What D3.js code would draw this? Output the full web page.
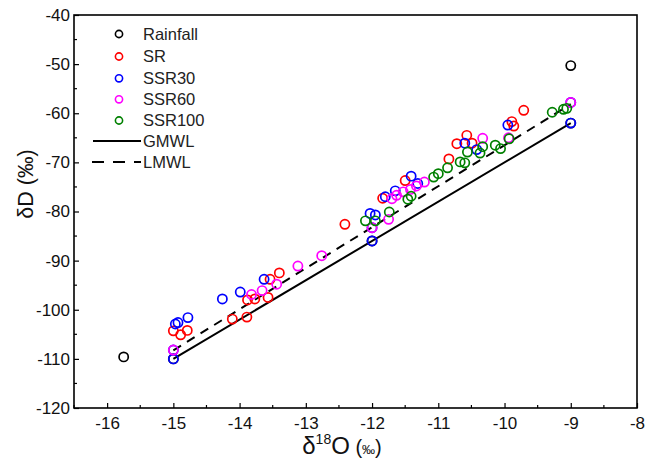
<!DOCTYPE html>
<html><head><meta charset="utf-8">
<script src="https://cdn.jsdelivr.net/npm/d3@7/dist/d3.min.js"></script>
<style>body{margin:0;background:#fff}svg{display:block;font-family:"Liberation Sans",Arial,sans-serif}</style>
</head><body><svg id="c" width="646" height="464"></svg>
<script>
const rainfall = [[-15.75,-109.6],[-15.0,-110.0],[-12.0,-86.0],[-9.0,-62.0],[-9.0,-50.3]];
const sr = [[-15.0,-104.3],[-14.89,-105.1],[-14.79,-104.2],[-14.11,-101.9],[-13.89,-101.5],[-13.88,-98.0],[-13.77,-97.8],[-13.57,-97.5],[-13.54,-93.8],[-13.4,-92.5],[-12.41,-82.6],[-11.84,-77.3],[-11.5,-73.7],[-10.84,-69.3],[-10.72,-66.2],[-10.57,-64.5],[-10.49,-66.1],[-9.89,-61.7],[-9.86,-62.6],[-9.71,-59.4]];
const ssr30 = [[-15.0,-110.0],[-15.0,-108.2],[-14.97,-102.9],[-14.93,-102.6],[-14.78,-101.6],[-14.26,-97.8],[-13.99,-96.4],[-13.63,-93.8],[-12.0,-86.0],[-12.0,-83.3],[-12.03,-80.4],[-11.95,-80.7],[-11.8,-77.0],[-11.65,-75.8],[-11.41,-72.8],[-11.31,-74.3],[-10.6,-66.1],[-10.42,-67.4],[-9.95,-62.4],[-9.0,-62.0],[-9.0,-57.8]];
const ssr60 = [[-15.0,-108.2],[-13.82,-96.9],[-13.66,-96.1],[-13.44,-94.8],[-13.12,-91.1],[-12.76,-89.0],[-12.0,-83.3],[-11.75,-81.6],[-11.7,-77.4],[-11.63,-76.7],[-11.53,-76.0],[-11.42,-75.5],[-11.33,-74.8],[-11.21,-74.0],[-10.33,-65.1],[-9.94,-65.0],[-9.0,-57.8]];
const ssr100 = [[-12.1,-81.9],[-11.95,-81.9],[-11.74,-80.1],[-11.46,-77.5],[-11.41,-76.9],[-11.07,-73.0],[-11.0,-72.3],[-10.86,-71.1],[-10.67,-69.9],[-10.6,-70.1],[-10.56,-67.9],[-10.37,-68.1],[-10.33,-66.8],[-10.14,-66.5],[-10.06,-67.2],[-9.93,-65.2],[-9.28,-59.8],[-9.11,-59.2],[-9.06,-59.0]];
const seriesNames = ["Rainfall","SR","SSR30","SSR60","SSR100"];
const seriesColors = ["#000000","#ff0000","#0000ff","#ff00ff","#008000"];
const gmwl = [[-15,-110],[-9,-62]];
const lmwl = [[-15,-108.25],[-9,-58.15]];
const xTicks = [-16,-15,-14,-13,-12,-11,-10,-9,-8];
const yTicks = [-120,-110,-100,-90,-80,-70,-60,-50,-40];

const svg = d3.select("#c");
const L=74,R=637,T=15,B=408;
const x = d3.scaleLinear().domain([-16.5,-8]).range([L,R]);
const y = d3.scaleLinear().domain([-120,-40]).range([B,T]);

const g = svg.append("g");
const xMinor = d3.range(-16.5,-8,1);
const yMinor = d3.range(-115,-40,10);
g.selectAll(".xm").data(xMinor).enter().append("line").attr("x1",d=>x(d)).attr("x2",d=>x(d)).attr("y1",B).attr("y2",B-3).attr("stroke","#000").attr("stroke-width",1.2);
g.selectAll(".ym").data(yMinor).enter().append("line").attr("y1",d=>y(d)).attr("y2",d=>y(d)).attr("x1",L).attr("x2",L+3).attr("stroke","#000").attr("stroke-width",1.2);

const fmt = d => String(d);
const xa = svg.append("g").attr("transform",`translate(0,${B})`).call(d3.axisBottom(x).tickValues(xTicks).tickSizeInner(-5).tickSizeOuter(0).tickPadding(9).tickFormat(fmt));
const ya = svg.append("g").attr("transform",`translate(${L},0)`).call(d3.axisLeft(y).tickValues(yTicks).tickSizeInner(-5).tickSizeOuter(0).tickPadding(4).tickFormat(fmt));
[xa,ya].forEach(a=>{a.select(".domain").remove();a.selectAll("line").attr("stroke-width",1.2);a.selectAll("text").attr("font-size",17).attr("fill","#111").attr("font-family","'Liberation Sans',Arial,sans-serif");});
xa.selectAll("text").attr("dy","0.71em");

svg.append("rect").attr("x",L).attr("y",T).attr("width",R-L).attr("height",B-T).attr("fill","none").attr("stroke","#000").attr("stroke-width",1.6);

const line = d3.line().x(d=>x(d[0])).y(d=>y(d[1]));
svg.append("path").attr("d",line(gmwl)).attr("stroke","#000").attr("stroke-width",2).attr("fill","none");
svg.append("path").attr("d",line(lmwl)).attr("stroke","#000").attr("stroke-width",2).attr("fill","none").attr("stroke-dasharray","9,7");

const allSeries=[rainfall,sr,ssr30,ssr60,ssr100];
allSeries.forEach((s,i)=>{
  svg.append("g").selectAll("circle").data(s).enter().append("circle")
    .attr("cx",d=>x(d[0])).attr("cy",d=>y(d[1])).attr("r",4.6)
    .attr("fill","none").attr("stroke",seriesColors[i]).attr("stroke-width",1.7);
});

const lg = svg.append("g");
const rowsY=[34,56.5,78.3,99.3,120.5];
seriesNames.forEach((n,i)=>{
  lg.append("circle").attr("cx",119).attr("cy",rowsY[i]).attr("r",3.6).attr("fill","none").attr("stroke",seriesColors[i]).attr("stroke-width",1.6);
  lg.append("text").attr("x",143).attr("y",rowsY[i]).attr("dy","0.36em").attr("font-size",16.5).attr("fill","#222").text(n);
});
lg.append("line").attr("x1",93).attr("x2",141).attr("y1",141).attr("y2",141).attr("stroke","#000").attr("stroke-width",2);
lg.append("text").attr("x",143).attr("y",141).attr("dy","0.36em").attr("font-size",16.5).attr("fill","#222").text("GMWL");
lg.append("line").attr("x1",92).attr("x2",141).attr("y1",162).attr("y2",162).attr("stroke","#000").attr("stroke-width",2).attr("stroke-dasharray","12,9");
lg.append("text").attr("x",143).attr("y",162).attr("dy","0.36em").attr("font-size",16.5).attr("fill","#222").text("LMWL");

const xt = svg.append("text").attr("x",342).attr("y",454).attr("text-anchor","middle").attr("fill","#111");
xt.append("tspan").attr("font-size",24).text("δ");
xt.append("tspan").attr("font-size",14).attr("dy",-10).text("18");
xt.append("tspan").attr("font-size",24).attr("dy",10).text("O");
xt.append("tspan").attr("font-size",20).text(" (");
xt.append("tspan").attr("font-size",13).text("‰");
xt.append("tspan").attr("font-size",20).text(")");
svg.append("text").attr("transform",`translate(33,184) rotate(-90)`).attr("text-anchor","middle").attr("font-size",21.5).attr("fill","#111").text("δD (‰)");
</script></body></html>
